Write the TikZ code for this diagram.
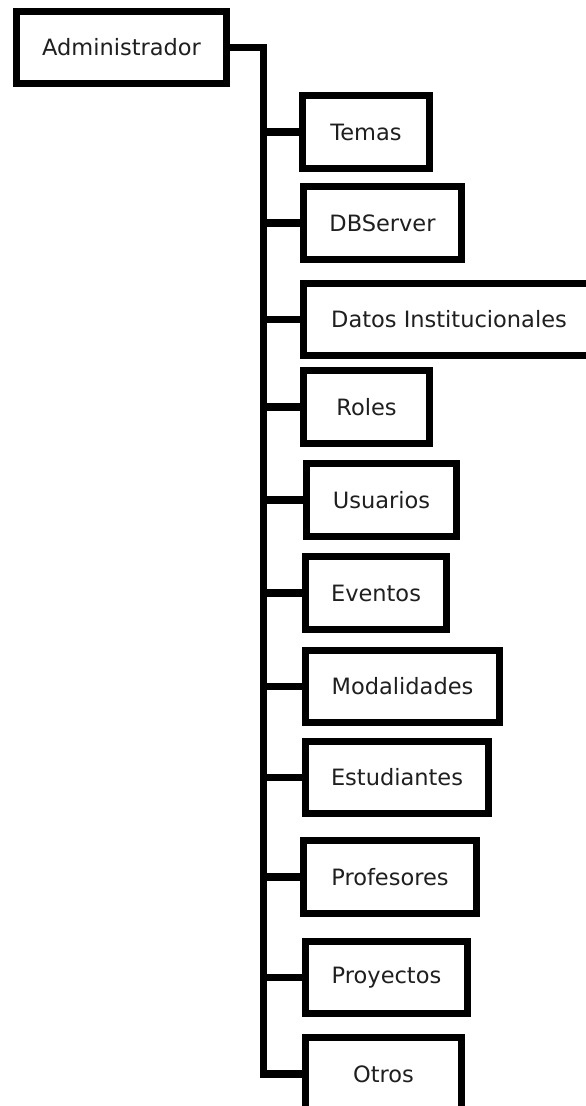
\documentclass[tikz,border=0pt]{standalone}
\usepackage{fontspec}
\setmainfont{DejaVu Sans}
\begin{document}
\begin{tikzpicture}[x=1pt,y=-1pt,
  box/.style={draw=black,line width=7pt,fill=white,inner sep=0pt,
    font=\fontsize{22.5}{27}\selectfont,text=black!88},
  conn/.style={draw=black,line width=7.5pt,line join=miter,line cap=butt}]
\useasboundingbox (0,0) rectangle (586,1106);
\clip (0,0) rectangle (586,1106);
\fill[white] (0,0) rectangle (586,1106);

% root and branch boxes (centre, size of the stroke centre line)
\node[box,minimum width=210pt,minimum height=72pt] (admin) at (121.5,47.5) {Administrador};
\node[box,minimum width=127pt,minimum height=73pt] (temas) at (366,132) {Temas};
\node[box,minimum width=158pt,minimum height=73pt] (db) at (382.5,223) {DBServer};
\node[box,minimum width=291pt,minimum height=72pt] (datos) at (449,319.5) {Datos Institucionales};
\node[box,minimum width=126pt,minimum height=73pt] (roles) at (366.5,407) {Roles};
\node[box,minimum width=150pt,minimum height=73pt] (usuarios) at (381.5,500) {Usuarios};
\node[box,minimum width=141pt,minimum height=73pt] (eventos) at (376,593) {Eventos};
\node[box,minimum width=194pt,minimum height=72pt] (modal) at (402.5,686.5) {Modalidades};
\node[box,minimum width=183pt,minimum height=72pt] (estud) at (397,777.5) {Estudiantes};
\node[box,minimum width=173pt,minimum height=73pt] (prof) at (390,877) {Profesores};
\node[box,minimum width=162pt,minimum height=72pt] (proy) at (386.5,977.5) {Proyectos};
\node[box,minimum width=156pt,minimum height=73pt] (otros) at (383.5,1074) {Otros};

% trunk
\coordinate (tb) at (263.5,1074);
\draw[conn] (admin.east) -| (tb) -- (otros.west);

% branches
\foreach \n in {temas,db,datos,roles,usuarios,eventos,modal,estud,prof,proy}
  \draw[conn] (\n.west) -- (\n.west -| tb);
\end{tikzpicture}
\end{document}
